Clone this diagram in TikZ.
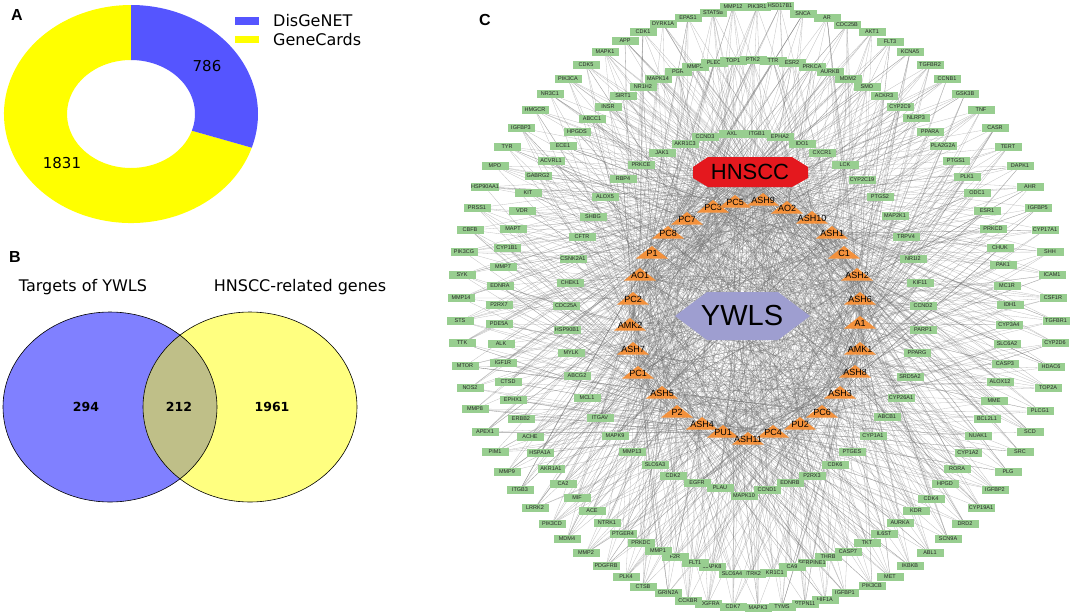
\documentclass[tikz,border=0pt]{standalone}
\usepackage{fontspec}
\setmainfont{Liberation Sans}
\newfontfamily\dejavu{DejaVu Sans}
\usetikzlibrary{calc}
\pgfdeclarelayer{paper}
\pgfdeclarelayer{background}
\pgfsetlayers{paper,background,main}
\definecolor{genegreen}{RGB}{152,206,144}
\definecolor{triorange}{RGB}{243,145,60}
\definecolor{hnred}{RGB}{228,24,30}
\definecolor{ywlav}{RGB}{158,158,208}
\definecolor{dgblue}{RGB}{85,85,255}
\definecolor{gcyellow}{RGB}{255,255,0}
\definecolor{vblue}{RGB}{128,128,255}
\definecolor{vyellow}{RGB}{255,255,128}
\definecolor{vmix}{RGB}{191,191,136}
\def\genelist{AHR/1030/187, IGFBP5/1038/208, CYP17A1/1045/230, SHH/1050/252, ICAM1/1052/275, CSF1R/1053/298, TGFBR1/1056/321, CYP2D6/1055/343, HDAC6/1051/367, TOP2A/1048/388, PLCG1/1040/411, SCD/1030/432, SRC/1020/452, PLG/1008/472, IGFBP2/995/490, CYP19A1/981/508, DRD2/965/524, SCN9A/948/539, ABL1/930/553, IKBKB/910/566, MET/890/577, PIK3CB/872/586, IGFBP1/845/593, HIF1A/825/600, PTPN11/805/604, TYMS/782/607, MAPK3/758/608, CDK7/733/607, PDGFRA/708/604, CCKBR/688/601, GRIN2A/668/593, CTSB/643/587, PLK4/626/577, PDGFRB/606/566, MMP2/586/553, MDM4/567/539, PIK3CD/552/524, LRRK2/535/508, ITGB3/520/490, MMP9/507/472, PIM1/495/452, APEX1/485/432, MMP8/475/409, NOS2/470/388, MTOR/465/366, TTK/462/343, STS/460/321, MMP14/461/298, SYK/462/275, PIK3CG/464/252, CBFB/470/230, PRSS1/477/208, HSP90AA1/485/187, MPO/495/166, TYR/507/147, IGFBP3/521/128, HMGCR/535/110, NR3C1/550/94, PIK3CA/568/79, CDK5/586/65, MAPK1/605/52, APP/625/41, CDK1/643/32, DYRK1A/663/24, EPAS1/688/18, STAT5B/713/13, MMP12/733/7, PIK3R1/757/7, HSD17B1/780/6, SNCA/803/14, AR/827/18, CDC25B/847/25, AKT1/872/32, FLT3/890/42, KCNA5/910/52, TGFBR2/930/65, CCNB1/947/79, GSK3B/965/94, TNF/981/110, CASR/995/128, TERT/1008/147, DAPK1/1020/166,
MAPK14/658/79, PGR/678/72, MMP3/695/67, PLEC/714/63, TOP1/733/61, PTK2/753/60, TTR/773/61, ESR2/792/63, PRKCA/812/67, AURKB/830/72, MDM2/848/79, SMO/867/87, ACKR3/884/96, CYP2C9/900/107, NLRP3/916/118, PPARA/930/132, PLA2G2A/943/146, PTGS1/956/161, PLK1/967/177, ODC1/977/193, ESR1/987/211, PRKCD/993/229, CHUK/1000/248, PAK1/1003/265, MC1R/1007/286, IDH1/1010/305, CYP3A4/1009/325, SLC6A2/1007/344, CASP3/1005/364, ALOX12/1000/382, MME/994/401, BCL2L1/987/419, NUAK1/978/436, CYP1A2/968/453, RORA/957/469, HPGD/945/484, CDK4/931/499, KDR/916/511, AURKA/900/523, IL6ST/884/534, TKT/867/543, CASP7/848/552, THRB/828/557, SERPINE1/812/563, CA9/792/567, AKR1C1/773/573, NTRK2/752/574, SLC6A4/732/574, MAPK8/712/567, FLT1/695/563, F2R/675/557, MMP1/658/551, PRKDC/641/543, PTGER4/623/534, NTRK1/607/523, ACE/592/511, MIF/577/498, CA2/563/484, AKR1A1/551/469, HSPA1A/540/453, ACHE/530/437, ERBB2/521/419, EPHX1/513/400, CTSD/508/382, IGF1R/503/363, ALK/501/344, PDE5A/499/324, P2RX7/499/305, EDNRA/500/286, MMP7/503/267, CYP1B1/507/248, MAPT/513/229, VDR/522/211, KIT/528/193, GABRG2/538/176, ACVRL1/551/161, ECE1/563/146, HPGDS/577/132, ABCC1/592/119, INSR/608/107, SIRT1/623/96, NR1H2/643/87,
CCND3/705/137, AXL/732/134, ITGB1/757/134, EPHA2/780/137, IDO1/802/144, CXCR1/822/153, LCK/845/165, CYP2C19/862/180, PTGS2/880/197, MAP2K1/895/216, TRPV4/906/237, NR1I2/913/259, KIF11/920/283, CCND2/923/306, PARP1/923/330, PPARG/917/353, SRD5A2/910/377, CYP26A1/901/398, ABCB1/887/417, CYP1A1/873/436, PTGES/852/452, CDK6/835/465, P2RX3/812/476, EDNRB/790/483, CCND1/767/490, MAPK10/744/496, PLAU/720/488, EGFR/697/483, CDK2/673/476, SLC6A3/655/465, MMP13/632/452, MAPK9/615/436, ITGAV/600/418, MCL1/587/398, ABCG2/577/376, MYLK/571/353, HSP90B1/567/330, CDC25A/566/306, CHEK1/570/283, CSNK2A1/573/259, CFTR/582/237, SHBG/593/217, ALOX5/605/197, RBP4/623/179, PRKCE/641/165, JAK1/662/153, AKR1C3/685/144}
\def\complist{PC3/713/207, PC5/735/202, ASH9/763/200, AO2/787/208, PC7/687/219, ASH10/812/218, PC8/668/233, ASH1/832/233, P1/652/253, C1/844/253, AO1/640/275, ASH2/857/275, PC2/633/299, ASH6/860/299, AMK2/630/325, A1/860/323, ASH7/633/349, AMK1/860/349, PC1/638/373, ASH8/855/372, ASH5/662/393, ASH3/840/393, P2/677/412, PC6/822/412, ASH4/702/424, PU2/800/424, PU1/723/432, PC4/773/432, ASH11/748/439}
\begin{document}
\begin{tikzpicture}[x=1pt,y=-1pt,
  gene/.style={rectangle, fill=genegreen, minimum width=27pt, minimum height=8pt, inner sep=0pt, font=\fontsize{5.5}{6}\selectfont, text=black!85},
  comp/.style={inner sep=0pt, minimum width=30pt, minimum height=11pt, font=\fontsize{9}{10}\selectfont},
  edge/.style={draw=black!55, line width=0.3pt, opacity=0.45},
  panel/.style={font=\bfseries\fontsize{16}{18}\selectfont, inner sep=0pt},
  lbl/.style={font=\dejavu\fontsize{16}{18}\selectfont, inner sep=0pt},
  num/.style={font=\dejavu\fontsize{15}{17}\selectfont, inner sep=0pt},
  vnum/.style={font=\dejavu\bfseries\fontsize{12.5}{14}\selectfont, inner sep=0pt}]
\useasboundingbox (0,0) rectangle (1072,614);
\begin{pgfonlayer}{paper}
\fill[white] (0,0) rectangle (1072,614);
\end{pgfonlayer}
% ---------- Panel A ----------
\node[panel] (la) at (17,15) {A};
\coordinate (dc) at (131,114);
\fill[gcyellow] ($(dc)+(18:127 and 109)$) arc[start angle=18, end angle=270, x radius=127, y radius=109]
  -- ($(dc)+(270:64 and 54)$) arc[start angle=270, end angle=18, x radius=64, y radius=54] -- cycle;
\fill[dgblue] ($(dc)+(-90:127 and 109)$) arc[start angle=-90, end angle=18, x radius=127, y radius=109]
  -- ($(dc)+(18:64 and 54)$) arc[start angle=18, end angle=-90, x radius=64, y radius=54] -- cycle;
\node[num] (n786) at (207,66) {786};
\node[num] (n1831) at (62,163) {1831};
\fill[dgblue] (235,17) rectangle (259,25);
\fill[gcyellow] (235,36) rectangle (259,43);
\node[lbl, anchor=west] (ldg) at (273,21) {DisGeNET};
\node[lbl, anchor=west] (lgc) at (273,40) {GeneCards};
% ---------- Panel B ----------
\node[panel] (lb) at (15,257) {B};
\node[lbl] (tv1) at (83,287) {Targets of YWLS};
\node[lbl] (tv2) at (300,287) {HNSCC-related genes};
\fill[vblue] (110,407) ellipse[x radius=107, y radius=95];
\fill[vyellow] (250,407) ellipse[x radius=107, y radius=95];
\begin{scope}
\clip (110,407) ellipse[x radius=107, y radius=95];
\fill[vmix] (250,407) ellipse[x radius=107, y radius=95];
\end{scope}
\draw[line width=0.6pt] (110,407) ellipse[x radius=107, y radius=95];
\draw[line width=0.6pt] (250,407) ellipse[x radius=107, y radius=95];
\node[vnum] (v1) at (86,407) {294};
\node[vnum] (v2) at (179,407) {212};
\node[vnum] (v3) at (272,407) {1961};
% ---------- Panel C ----------
\node[panel] (lc) at (485,20) {C};
\fill[hnred] (708,157) -- (792,157) -- (808,167) -- (808,178) -- (792,187) -- (708,187) -- (693,178) -- (693,167) -- cycle;
\node[inner sep=0pt, minimum width=112pt, minimum height=28pt, font=\fontsize{22}{24}\selectfont] (hn) at (750,172) {HNSCC};
\fill[ywlav] (675,316) -- (707,292) -- (778,292) -- (810,316) -- (778,340) -- (707,340) -- cycle;
\node[inner sep=0pt, minimum width=130pt, minimum height=46pt, font=\fontsize{29}{31}\selectfont] (yw) at (742,316) {YWLS};
\foreach \n/\x/\y [count=\i] in \complist {
  \fill[triorange] ({\x-16},{\y+5.5}) -- ({\x+16},{\y+5.5}) -- (\x,{\y-7}) -- cycle;
  \node[comp] (t\i) at (\x,\y) {\n};
  \begin{pgfonlayer}{background}
    \draw[edge] (yw) -- (t\i);
  \end{pgfonlayer}
}
\pgfmathsetseed{4242}
\foreach \n/\x/\y [count=\i] in \genelist {
  \node[gene] (g\i) at (\x,\y) {\n};
  \begin{pgfonlayer}{background}
    \draw[edge] (hn) -- (g\i);
    \foreach \k in {1,...,6} {
      \pgfmathrandominteger{\rr}{1}{29}
      \draw[edge] (g\i) -- (t\rr);
    }
  \end{pgfonlayer}
}
\end{tikzpicture}
\end{document}
